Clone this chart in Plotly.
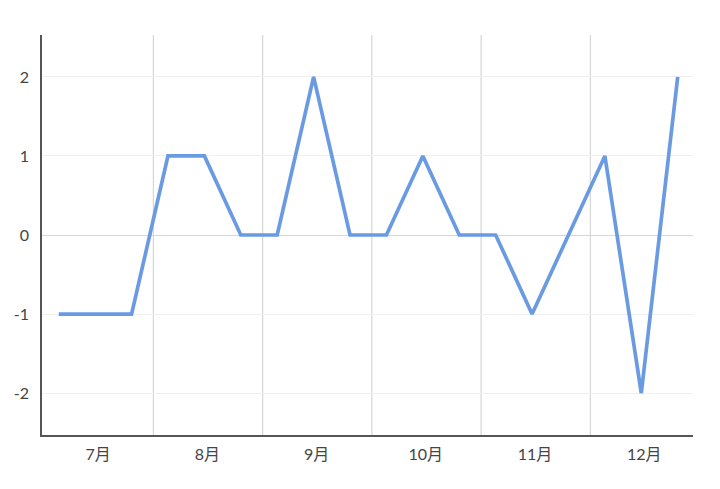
import plotly.graph_objects as go

# three readings per month, July to December
months = ["7月", "8月", "9月", "10月", "11月", "12月"]
values = [-1, -1, -1, 1, 1, 0, 0, 2, 0, 0, 1, 0, 0, -1, 0, 1, -2, 2]
y_ticks = [-2, -1, 0, 1, 2]

x = list(range(len(values)))
label_pos = [3 * i + 1.08 for i in range(len(months))]
month_edges = [3 * i + 2.6 for i in range(len(months) - 1)]

fig = go.Figure()
fig.add_trace(go.Scatter(
    x=x, y=values, mode="lines",
    line=dict(color="#6a9be2", width=3.7),
    hoverinfo="y",
))

# vertical lines between months
for e in month_edges:
    fig.add_shape(type="line", xref="x", yref="paper", x0=e, x1=e, y0=0, y1=1,
                  line=dict(color="#d6d6d6", width=1.2), layer="below")

# the page body adds ~8px offset, so margins are shifted to compensate
fig.update_layout(
    width=720, height=489,
    margin=dict(l=34, r=35, t=27, b=62),
    plot_bgcolor="white", paper_bgcolor="white",
    showlegend=False,
    font=dict(family="Lato, Noto Sans CJK JP, sans-serif", size=16, color="#444"),
)
fig.update_xaxes(
    range=[-0.46, 17.42], automargin=False,
    tickmode="array", tickvals=label_pos, ticktext=months,
    showgrid=False, zeroline=False,
    showline=True, linecolor="#555", linewidth=1.5,
    ticks="", ticklabelstandoff=4,
)
fig.update_yaxes(
    range=[-2.53, 2.53], automargin=False,
    tickmode="array", tickvals=y_ticks, ticktext=[str(v) for v in y_ticks],
    showgrid=True, gridcolor="#f0f0f0", gridwidth=1,
    zeroline=True, zerolinecolor="#d6d6d6", zerolinewidth=1.2,
    showline=True, linecolor="#555", linewidth=1.5,
    ticks="", ticklabelstandoff=8,
)

fig.write_html("out.html")
